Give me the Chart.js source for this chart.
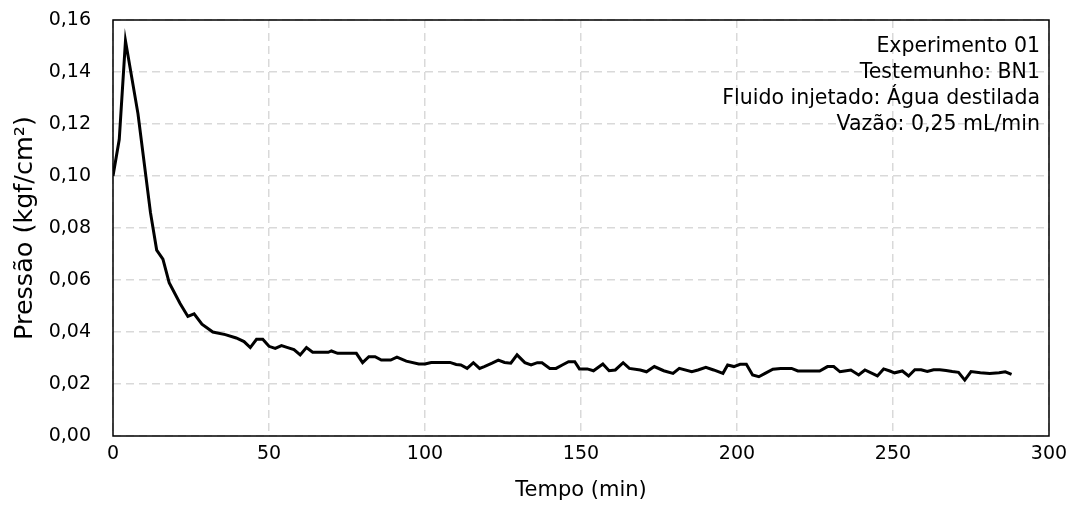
<!DOCTYPE html>
<html>
<head>
<meta charset="utf-8">
<script src="https://cdn.jsdelivr.net/npm/chart.js@4/dist/chart.umd.min.js"></script>
<style>
	html, body { margin: 0; padding: 0; background: #fff; }
	#wrap { width: 1072px; height: 515px; }
</style>
</head>
<body>
<div id="wrap"><canvas id="chart"></canvas></div>
<script>
// Tempo (min) e pressão
const tempoMin = [0, 2, 4, 8, 12, 14, 16, 18, 21.5, 24, 26, 28.5, 32, 36, 39.5, 42, 44, 46, 48,
		50, 52, 54, 56, 58, 60, 62, 64, 69, 70, 72, 78, 80, 82, 84, 86, 89, 91, 94, 98,
		100, 102, 108, 110, 111.5, 113.5, 115.5, 117.5, 119, 121.5, 123.5, 125.5, 127.5, 129.5,
		132, 134, 136, 137.5, 140, 142, 144, 146, 148, 149.5, 152, 154, 157, 159, 161, 163.5,
		165.5, 169, 171, 173.5, 176.5, 179.5, 181.5, 185.5, 187.5, 190, 192.5, 195.5, 197, 199,
		201, 203, 205, 207, 209, 211.5, 214, 217.5, 219.5, 222, 226.5, 229, 231, 233, 234.5,
		236.5, 239, 241, 245, 247, 249, 250.5, 253, 255, 257, 259, 261, 263, 265, 267, 269,
		271, 273, 275, 278, 281, 284, 286, 288];
const pressao = [0.100, 0.114, 0.152, 0.124, 0.086, 0.0715, 0.068, 0.059, 0.051, 0.046, 0.047,
		0.043, 0.040, 0.039, 0.0377, 0.0363, 0.034, 0.0372, 0.0372,
		0.0345, 0.0337, 0.0348, 0.034, 0.0332, 0.0312, 0.034, 0.0322, 0.0322, 0.0327, 0.0318,
		0.0318, 0.0282, 0.0305, 0.0305, 0.0292, 0.0292, 0.0303, 0.0288, 0.0277,
		0.0277, 0.0283, 0.0283, 0.0275, 0.0273, 0.026, 0.0282, 0.026, 0.0267, 0.028, 0.0292,
		0.0283, 0.028, 0.0312,
		0.0282, 0.0273, 0.0282, 0.0282, 0.026, 0.026, 0.0273, 0.0286, 0.0286, 0.0258, 0.0258,
		0.0251, 0.0277, 0.0251, 0.0254, 0.0282,
		0.026, 0.0254, 0.0247, 0.0267, 0.0251, 0.0241, 0.026, 0.0247, 0.0254, 0.0264, 0.0254,
		0.0241, 0.0273, 0.0267,
		0.0276, 0.0276, 0.0235, 0.0228, 0.0241, 0.0257, 0.026, 0.026, 0.025, 0.025, 0.025,
		0.0267, 0.0267, 0.0247, 0.025,
		0.0254, 0.0235, 0.0254, 0.0231, 0.0258, 0.025, 0.0243, 0.025, 0.0231, 0.0255, 0.0255,
		0.0248, 0.0255, 0.0255, 0.0252, 0.0248,
		0.0245, 0.0215, 0.0248, 0.0243, 0.024, 0.0243, 0.0247, 0.0237];
const infoLines = [ "Experimento 01", "Testemunho: BN1", "Fluido injetado: Água destilada", "Vazão: 0,25 mL/min" ];

const FONT = "'DejaVu Sans', sans-serif";

const frameAndInfo = {
	id: "frameAndInfo",
	afterDatasetsDraw(chart)
	{
		const { ctx, chartArea: { left, top, width, height, right } } = chart;
		ctx.save();
		ctx.strokeStyle = "#000";
		ctx.lineWidth = 1.5;
		ctx.strokeRect(left, top, width, height);

		ctx.fillStyle = "#000";
		ctx.font = "20.5px " + FONT;
		ctx.textAlign = "right";
		ctx.textBaseline = "middle";
		for (let i = 0; i < infoLines.length; i++)
			ctx.fillText(infoLines[i], right - 9, top + 27 + i * 26);
		ctx.restore();
	}
};

const points = tempoMin.map((t, i) => ({ x: t, y: pressao[i] }));

new Chart(document.getElementById("chart"), {
	type: "line",
	data: {
		datasets: [{
			data: points,
			borderColor: "#000",
			borderWidth: 3,
			pointRadius: 0,
			tension: 0,
			fill: false,
		}]
	},
	options: {
		responsive: true,
		maintainAspectRatio: false,
		animation: false,
		layout: { padding: { top: 20, right: 23, left: 0, bottom: 0 } },
		plugins: {
			legend: { display: false },
			tooltip: { enabled: false },
		},
		scales: {
			x: {
				type: "linear",
				min: 0,
				max: 300,
				border: { display: false, dash: [8, 5] },
				grid: { color: "#d9d9d9", lineWidth: 1.5, drawTicks: false },
				ticks: {
					stepSize: 50,
					padding: 7,
					color: "#000",
					font: { family: FONT, size: 19 },
					maxRotation: 0,
				},
				title: {
					display: true,
					text: "Tempo (min)",
					color: "#000",
					font: { family: FONT, size: 21 },
					padding: { top: 2, bottom: 12 },
				},
				afterFit(scale)
				{
					scale.height = 79;
					scale.paddingLeft = 0;
					scale.paddingRight = 0;
				},
			},
			y: {
				min: 0,
				max: 0.16,
				border: { display: false, dash: [8, 5] },
				grid: { color: "#d9d9d9", lineWidth: 1.5, drawTicks: false },
				ticks: {
					stepSize: 0.02,
					padding: 22,
					color: "#000",
					font: { family: FONT, size: 19 },
					callback: v => v.toFixed(2).replace(".", ","),
				},
				title: {
					display: true,
					text: "Pressão (kgf/cm²)",
					color: "#000",
					font: { family: FONT, size: 25.5 },
					padding: { top: 10, bottom: 0 },
				},
				afterFit(scale)
				{
					scale.width = 113;
					scale.paddingTop = 0;
					scale.paddingBottom = 0;
				},
			}
		}
	},
	plugins: [ frameAndInfo ],
});
</script>
</body>
</html>
